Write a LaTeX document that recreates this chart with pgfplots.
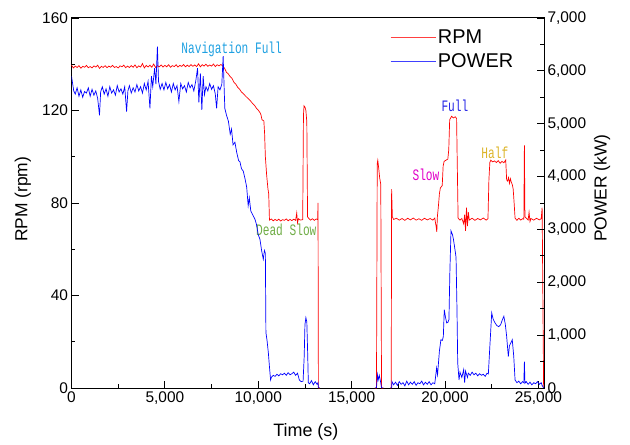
\documentclass[border=0pt]{standalone}
\usepackage{pgfplots}
\pgfplotsset{compat=1.18}
\usepackage{fontspec}
\setmainfont{Liberation Sans}
\newfontfamily\annfont[FakeStretch=0.7]{Liberation Mono}
\definecolor{navc}{RGB}{30,160,225}
\definecolor{deadc}{RGB}{112,173,71}
\definecolor{slowc}{RGB}{225,0,200}
\definecolor{fullc}{RGB}{40,40,230}
\definecolor{halfc}{RGB}{220,180,40}
\begin{document}
\begin{tikzpicture}
\useasboundingbox (-71.5bp,-57bp) rectangle (558.5bp,388bp);
\pgfplotsset{
  base/.style={
    at={(0,0)}, anchor=south west, scale only axis,
    width=472.5bp, height=370bp,
    xmin=0, xmax=25300,
    scaled x ticks=false, scaled y ticks=false,
    tick align=inside,
    major tick length=7bp, minor tick length=4bp,
    tick style={black, line width=0.8pt},
    axis line style={black, line width=1pt},
    tick label style={font=\fontsize{15.5}{18}\selectfont},
    /pgf/number format/.cd, 1000 sep={,}, assume math mode=true,
  }
}
\begin{axis}[base,
  ymin=0, ymax=160,
  xtick={0,5000,...,25000}, minor x tick num=1,
  ytick={0,40,...,160}, minor y tick num=1,
  xtick pos=bottom, ytick pos=left,
  xlabel={Time (s)},
  xlabel style={font=\fontsize{18}{20}\selectfont, at={(axis description cs:0.496,-0.119)}, anchor=center},
  ylabel={RPM (rpm)},
  ylabel style={font=\fontsize{17.5}{20}\selectfont, at={(axis description cs:-0.103,0.51)}, anchor=center},
  unbounded coords=jump,
]
\addplot[red, line width=0.7pt] coordinates {
(0,139.6)(100,138.4)(200,139.2)(300,138.6)(400,139.4)(500,138.3)(600,139.1)(700,138.7)(800,139.5)(900,138.5)
(1000,139.0)(1100,138.4)(1200,139.3)(1300,138.8)(1400,139.6)(1500,138.2)(1600,139.1)(1700,138.6)(1800,139.4)(1900,138.5)
(2000,139.2)(2100,138.7)(2200,139.5)(2300,138.6)(2400,139.0)(2500,138.4)(2600,139.3)(2700,138.9)(2800,139.6)(2900,138.5)
(3000,139.2)(3100,138.6)(3200,139.4)(3300,138.7)(3400,139.7)(3500,138.5)(3600,139.3)(3700,138.8)(3800,140.3)(3900,138.4)
(4000,139.5)(4100,138.8)(4200,139.6)(4300,138.7)(4400,140.1)(4500,138.6)(4600,139.4)(4700,138.9)(4800,139.7)(4900,138.8)
(5000,139.5)(5100,138.9)(5200,139.8)(5300,138.7)(5400,139.4)(5500,139.0)(5600,139.8)(5700,138.8)(5800,139.5)(5900,139.1)
(6000,139.9)(6100,138.9)(6200,139.6)(6300,139.0)(6400,139.8)(6500,139.1)(6600,139.7)(6700,139.0)(6800,140.2)(6900,138.9)
(7000,139.8)(7100,139.2)(7200,140.0)(7300,139.1)(7400,139.7)(7500,139.2)(7600,140.1)(7700,139.0)(7800,139.8)(7900,139.3)
(8000,139.9)(8100,139.2)(8200,138.2)(8300,136.5)(8400,135.8)(8500,134.6)(8600,133.8)(8700,132.2)(8800,131.4)(8900,130.0)
(9000,129.2)(9100,128.0)(9200,127.3)(9300,126.4)(9400,125.6)(9500,124.8)(9600,124.0)(9700,123.0)(9800,122.2)(9900,121.0)
(10000,120.2)(10100,119.0)(10150,118.0)(10200,116.0)(10300,115.5)(10340,110)(10380,100)(10450,92)(10520,86)(10560,84)(10600,72.6)
(10700,73.1)(10800,72.3)(10900,72.9)(11000,72.4)(11100,73.0)(11200,72.2)(11300,72.8)(11400,72.5)(11500,73.1)(11600,72.3)
(11700,72.9)(11800,72.4)(11900,73.0)(12000,72.5)(12060,75.7)(12100,71.4)(12150,73.2)(12250,72.6)(12380,72.8)
(12420,118)(12450,122)(12500,121.5)(12550,120)(12600,115)(12640,74)(12700,73.4)(12800,72.6)(12900,73.2)(13000,72.5)
(13100,73.1)(13180,72.8)(13200,80)(13220,0)(13300,0)(13350,nan)
(16250,0)(16330,0)(16370,97)(16400,98.5)(16450,95)(16500,91)(16560,88)(16600,0)(16700,0)(16750,nan)
(17080,0)(17120,0)(17140,86)(17180,74)(17250,72.9)(17400,73.4)(17550,72.6)(17700,73.3)(17850,72.5)(18000,73.4)
(18150,72.7)(18300,73.5)(18450,72.6)(18600,73.2)(18750,72.5)(18900,73.4)(19050,72.7)(19200,73.3)(19350,72.6)(19450,73.5)
(19520,70)(19560,67.5)(19590,74)(19650,79)(19700,84)(19750,86.5)(19850,87.5)(19900,96)(19950,98)(20050,98.5)
(20150,99)(20200,103)(20250,116)(20350,117.5)(20450,116.8)(20550,117.3)(20620,116.5)(20650,100)(20700,73.5)(20800,72.6)
(20900,73.3)(21000,71)(21050,75)(21100,68)(21150,78)(21200,70)(21250,76)(21300,72.6)(21450,73.4)(21600,72.5)
(21750,73.3)(21900,72.7)(22050,73.5)(22200,72.6)(22300,73.2)(22350,90)(22400,97.5)(22450,98.5)(22550,97.8)(22650,98.2)
(22750,97.5)(22850,98.3)(22950,97.2)(23050,98)(23150,97.4)(23250,98.6)(23300,90)(23350,89.5)(23400,91)(23450,88.5)
(23500,90.5)(23550,89)(23600,88)(23650,86)(23700,80)(23750,73.5)(23850,72.5)(23950,73.4)(24050,72.6)(24150,73.2)
(24220,73)(24250,105)(24280,74)(24350,73.5)(24450,72.6)(24500,76)(24550,72)(24600,73.3)(24750,72.6)(24900,73.4)
(25050,72.7)(25150,73.2)(25200,78)(25280,0)
};
\node[font=\annfont\fontsize{16}{18}\selectfont, text=navc] at (axis cs:8576,146.6) {Navigation Full};
\node[font=\annfont\fontsize{16}{18}\selectfont, text=deadc] at (axis cs:11500,68.3) {Dead Slow};
\node[font=\annfont\fontsize{16}{18}\selectfont, text=fullc] at (axis cs:20530,122) {Full};
\node[font=\annfont\fontsize{16}{18}\selectfont, text=slowc] at (axis cs:18980,92.1) {Slow};
\node[font=\annfont\fontsize{16}{18}\selectfont, text=halfc] at (axis cs:22670,101.7) {Half};
\end{axis}
\begin{axis}[base,
  ymin=0, ymax=7000,
  ytick={0,1000,...,7000}, minor y tick num=1,
  hide x axis,
  axis y line*=right,
  ylabel={POWER (kW)},
  ylabel style={font=\fontsize{17.5}{20}\selectfont, at={(axis description cs:1.123,0.54)}, anchor=center},
  unbounded coords=jump,
  legend style={at={(0.674,0.975)}, anchor=north west, draw=none, fill=none,
    font=\fontsize{20}{23}\selectfont, row sep=5bp, inner sep=0pt, cells={anchor=west}},
  legend image code/.code={\draw[#1] (0bp,0bp) -- (45bp,0bp);},
]
\addlegendimage{red!75!white, line width=0.8pt}
\addlegendentry{RPM}
\addlegendimage{blue!75!white, line width=0.8pt}
\addlegendentry{POWER}
\addplot[blue, line width=0.7pt, forget plot] coordinates {
(0,5900)(60,5760)(120,5620)(200,5560)(300,5680)(400,5520)(500,5640)(600,5500)(700,5610)(800,5580)
(900,5680)(1000,5520)(1100,5650)(1200,5540)(1300,5620)(1400,5480)(1500,5160)(1560,5600)(1650,5700)(1750,5560)
(1850,5660)(1950,5520)(2050,5700)(2150,5580)(2250,5640)(2350,5540)(2450,5720)(2550,5600)(2650,5660)(2750,5560)
(2850,5700)(2950,5230)(3020,5620)(3100,5720)(3200,5580)(3300,5680)(3400,5600)(3500,5740)(3600,5620)(3700,5700)
(3800,5580)(3900,5760)(4000,5640)(4100,5800)(4200,5290)(4280,5900)(4350,5700)(4450,6050)(4520,5750)(4600,6460)
(4660,5800)(4750,5650)(4850,5760)(4950,5640)(5050,5780)(5150,5660)(5250,5740)(5350,5600)(5450,5760)(5550,5640)
(5650,5720)(5750,5420)(5850,5760)(5950,5660)(6050,5720)(6150,5600)(6250,5780)(6350,5680)(6450,5740)(6550,5620)
(6650,5800)(6750,6050)(6820,5400)(6900,5950)(6980,5260)(7050,5900)(7120,5550)(7200,5700)(7300,5620)(7400,5760)
(7500,5650)(7600,5720)(7700,5560)(7770,5290)(7850,5700)(7950,5640)(8050,5750)(8120,6280)(8180,5600)(8210,5290)
(8300,5160)(8400,5050)(8500,4800)(8570,4900)(8650,4600)(8750,4650)(8850,4450)(8950,4300)(9020,4280)(9100,4150)
(9200,4100)(9290,3960)(9380,3800)(9460,3450)(9520,3600)(9600,3350)(9700,3280)(9820,3196)(9900,3100)(10000,2900)
(10090,2815)(10180,2600)(10270,2435)(10330,2600)(10380,2550)(10410,1050)(10470,900)(10540,666)(10600,400)(10660,152)
(10700,200)(10800,240)(10900,220)(11000,260)(11100,230)(11200,270)(11300,250)(11400,280)(11500,240)(11600,290)
(11700,250)(11800,270)(11900,300)(12000,240)(12100,280)(12150,220)(12200,150)(12300,120)(12400,130)(12460,600)
(12500,1200)(12550,1330)(12600,1250)(12650,600)(12680,100)(12750,80)(12850,140)(12950,60)(13050,120)(13150,70)
(13200,100)(13220,0)(13300,0)(13350,nan)
(16250,0)(16330,0)(16380,250)(16420,150)(16480,240)(16560,100)(16600,0)(16700,0)(16750,nan)
(17080,0)(17140,0)(17160,120)(17250,60)(17350,110)(17450,50)(17550,120)(17650,70)(17750,100)(17850,40)
(17950,130)(18050,60)(18150,110)(18250,70)(18350,120)(18450,50)(18550,100)(18650,80)(18750,130)(18850,60)
(18950,110)(19050,70)(19150,120)(19250,60)(19350,100)(19450,80)(19550,380)(19600,250)(19700,700)(19780,913)
(19860,900)(19910,976)(19960,1484)(20020,1350)(20090,1230)(20150,1240)(20210,1293)(20260,2200)(20320,2973)(20400,2900)
(20450,2815)(20520,2650)(20590,2473)(20640,1500)(20680,475)(20750,152)(20800,300)(20900,200)(21000,350)(21050,100)
(21100,320)(21200,200)(21250,280)(21350,240)(21450,300)(21550,250)(21650,280)(21750,230)(21850,270)(21950,240)
(22050,260)(22150,220)(22250,280)(22320,266)(22400,786)(22450,1100)(22500,1420)(22580,1300)(22680,1230)(22780,1180)
(22880,1160)(22980,1200)(23080,1300)(23150,1356)(23230,1200)(23300,976)(23390,595)(23450,800)(23520,850)(23600,913)
(23680,600)(23750,152)(23850,100)(23950,130)(24050,80)(24150,120)(24220,100)(24250,500)(24280,90)(24350,120)
(24450,70)(24550,110)(24650,60)(24750,100)(24850,80)(24950,120)(25050,70)(25150,100)(25200,50)(25280,0)
};
\end{axis}
\end{tikzpicture}
\end{document}
